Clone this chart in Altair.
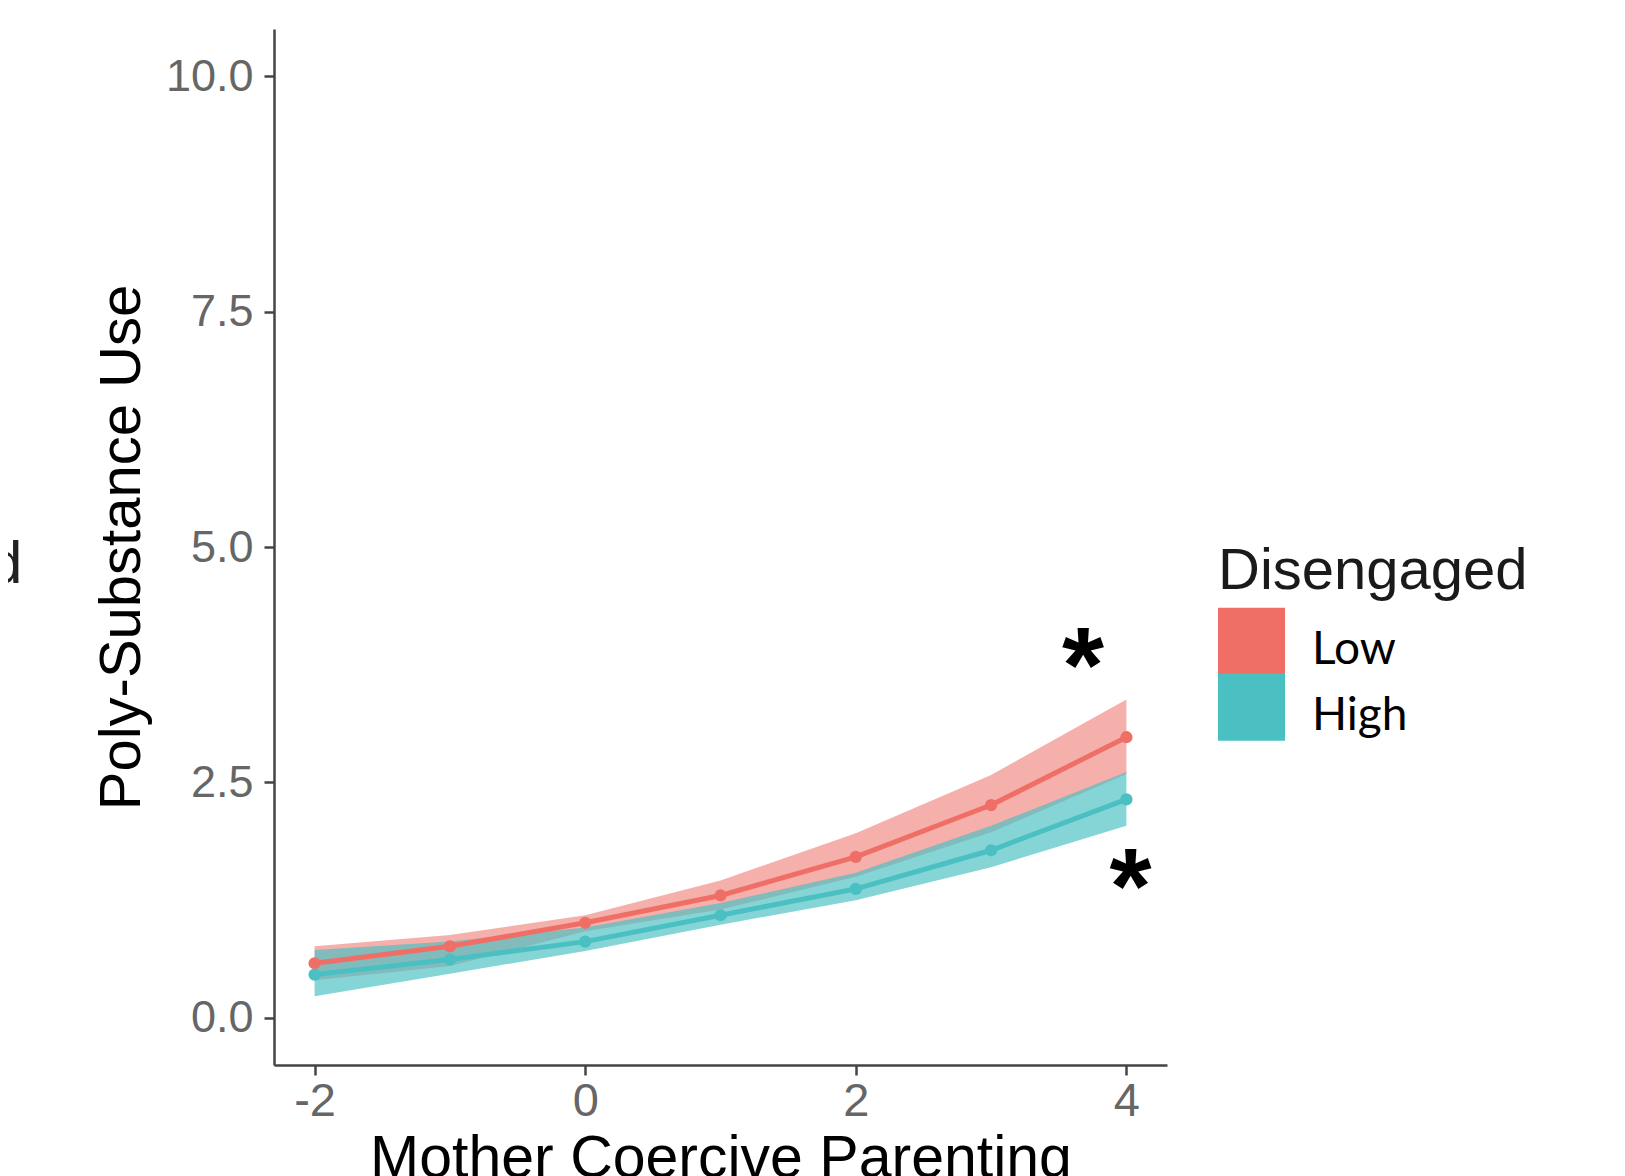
import altair as alt
import pandas as pd

# ---- data ----
x_vals = [-2, -1, 0, 1, 2, 3, 4]
low_fit = [0.58, 0.76, 1.01, 1.30, 1.71, 2.26, 2.98]
low_lo = [0.40, 0.55, 0.92, 1.15, 1.50, 1.97, 2.59]
low_hi = [0.76, 0.88, 1.09, 1.46, 1.96, 2.58, 3.38]
high_fit = [0.46, 0.62, 0.81, 1.09, 1.37, 1.78, 2.32]
high_lo = [0.23, 0.47, 0.71, 0.99, 1.25, 1.60, 2.04]
high_hi = [0.72, 0.81, 0.96, 1.22, 1.54, 2.04, 2.61]

groups = ["Low", "High"]
colors = ["#EF6F67", "#4BC0C2"]
ribbon_alpha = {"Low": 0.55, "High": 0.68}

y_ticks = [0, 2.5, 5, 7.5, 10]
x_ticks = [-2, 0, 2, 4]

star_x = [3.68, 4.03]
star_y = [3.69, 1.35]
edge_text = ["d"]
edge_x = [-4.16]
edge_y = [4.62]

rows = []
for g, fit, lo, hi in [("Low", low_fit, low_lo, low_hi), ("High", high_fit, high_lo, high_hi)]:
    for x, f, l, h in zip(x_vals, fit, lo, hi):
        rows.append({"x": x, "fit": f, "lo": l, "hi": h, "group": g})
df = pd.DataFrame(rows)
stars = pd.DataFrame({"x": star_x, "y": star_y, "t": ["*", "*"]})
edge = pd.DataFrame({"x": edge_x, "y": edge_y, "t": edge_text})

W, H = 893, 1036
FONT = "Liberation Sans"

xscale = alt.Scale(domain=[-2.3, 4.3], nice=False, zero=False)
yscale = alt.Scale(domain=[-0.5, 10.5], nice=False, zero=False)
cscale = alt.Scale(domain=groups, range=colors)

xaxis = alt.Axis(values=x_ticks, labelExpr="'' + datum.value", title="Mother Coercive Parenting",
                 grid=False, labelFont=FONT, labelFontSize=47, labelColor="#666666",
                 labelPadding=3, tickSize=10, tickWidth=2.5, tickColor="#444",
                 domainColor="#444", domainWidth=2.5, titleFont=FONT, titleFontSize=59,
                 titleFontWeight="normal", titleColor="#000", titlePadding=5)
yaxis = alt.Axis(values=y_ticks, format=".1f", title="Poly-Substance Use",
                 grid=False, labelFont=FONT, labelFontSize=45, labelColor="#666666",
                 labelPadding=11, tickSize=10, tickWidth=2.5, tickColor="#444",
                 domainColor="#444", domainWidth=2.5, titleFont=FONT, titleFontSize=58,
                 titleFontWeight="normal", titleColor="#000", titlePadding=14)

# square swatch drawn slightly above its row centre so the labels sit a bit lower
swatch = "M-1,-1.25H1V0.75H-1Z"
legend = alt.Legend(title="Disengaged", orient="none", legendX=944, legendY=514,
                    symbolType=swatch, symbolSize=4489, symbolStrokeWidth=0,
                    symbolOpacity=1, rowPadding=-2, padding=0,
                    labelFont="Lato", labelFontSize=46, labelColor="#000",
                    labelOffset=27, labelLimit=300,
                    titleFont=FONT, titleFontSize=58, titleFontWeight="normal",
                    titleColor="#1a1a1a", titlePadding=15, titleLimit=600)

base = alt.Chart(df)


def xq(field):
    return alt.X(field, scale=xscale, axis=xaxis)


def yq(field):
    return alt.Y(field, scale=yscale, axis=yaxis)


def ribbon_for(g):
    return base.transform_filter(alt.datum.group == g).mark_area(
        fillOpacity=ribbon_alpha[g], strokeWidth=0
    ).encode(
        x=xq("x:Q"),
        y=yq("lo:Q"),
        y2="hi:Q",
        fill=alt.Fill("group:N", scale=cscale, legend=legend),
    )


ribbon_low = ribbon_for("Low")
ribbon_high = ribbon_for("High")

line = base.mark_line(strokeWidth=5).encode(
    x=xq("x:Q"),
    y=yq("fit:Q"),
    color=alt.Color("group:N", scale=cscale, legend=None),
    detail="group:N",
)

pts = base.mark_circle(size=150, opacity=1).encode(
    x=xq("x:Q"),
    y=yq("fit:Q"),
    color=alt.Color("group:N", scale=cscale, legend=None),
)

star_layer = alt.Chart(stars).mark_text(font=FONT, fontSize=108, fontWeight="bold", color="#000",
                                        align="center", baseline="middle").encode(
    x=xq("x:Q"), y=yq("y:Q"), text="t:N")

edge_layer = alt.Chart(edge).mark_text(font=FONT, fontSize=60, color="#222",
                                       align="right", baseline="alphabetic").encode(
    x=xq("x:Q"), y=yq("y:Q"), text="t:N")

chart = alt.layer(ribbon_low, ribbon_high, line, pts, star_layer, edge_layer).resolve_scale(
    color="independent"
).properties(
    width=W, height=H,
    autosize=alt.AutoSizeParams(type="none"),
    padding={"left": 266, "top": 21, "right": 440, "bottom": 111},
    background="white",
).configure_view(stroke=None)

chart.save("out.html", embed_options={"renderer": "svg", "actions": False})
